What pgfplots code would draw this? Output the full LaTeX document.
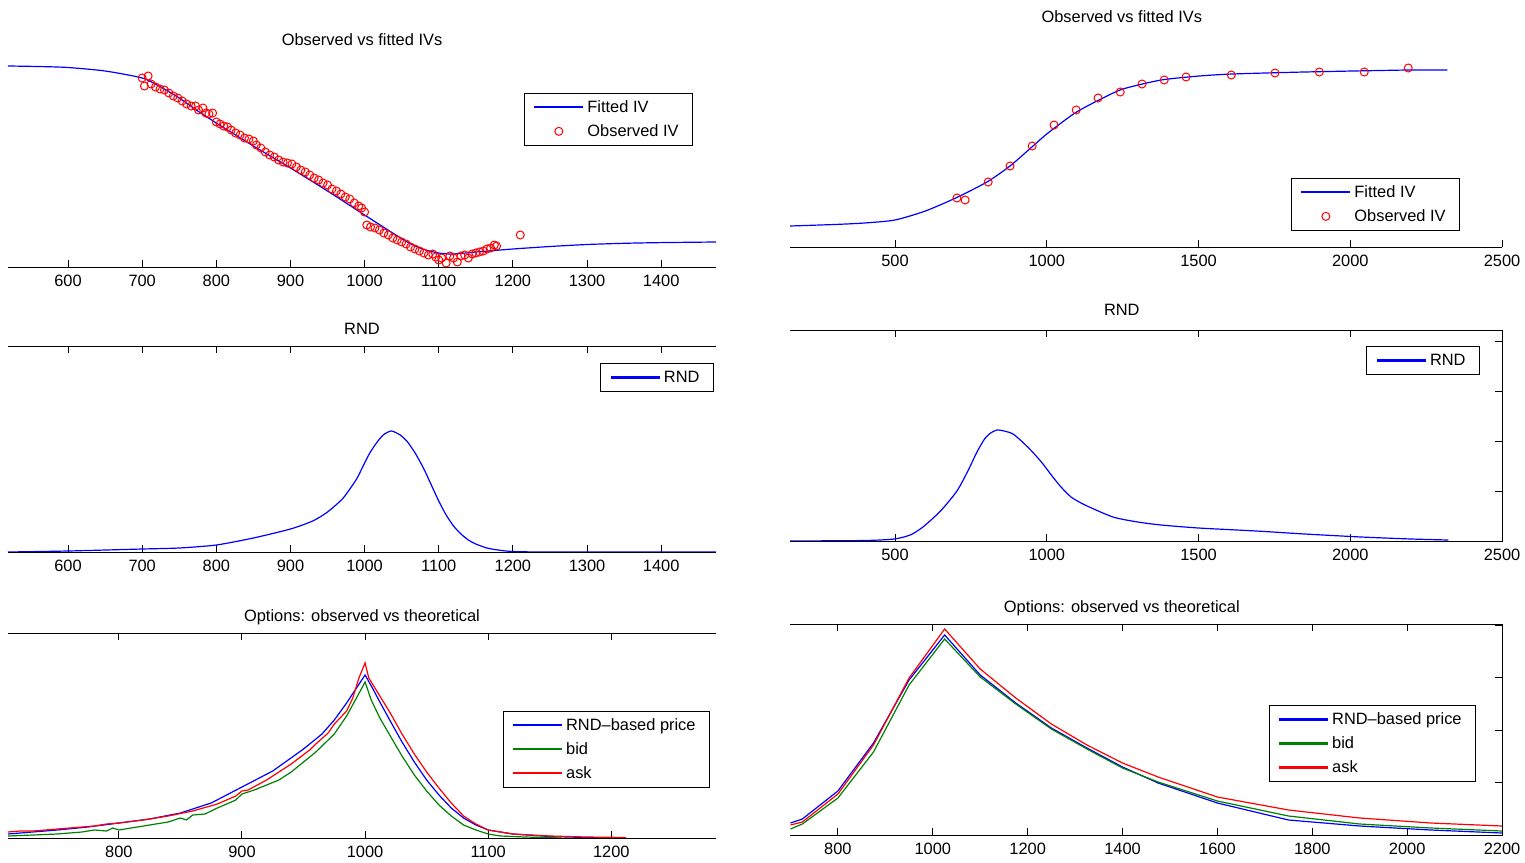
\documentclass[border=0pt]{standalone}
\usepackage{fontspec}
\setmainfont{Liberation Sans}
\usepackage{pgfplots}
\pgfplotsset{compat=1.18}

\definecolor{mblue}{rgb}{0,0,1}
\definecolor{mgreen}{rgb}{0,0.5,0}
\definecolor{mred}{rgb}{1,0,0}
\newcommand{\fs}{\fontsize{8.2}{10}\selectfont}
\tikzset{axisln/.style={draw=black, line width=0.5pt}}

\pgfplotsset{
  panel/.style={
    scale only axis, clip mode=individual,
    separate axis lines,
    axis line style={draw=none},
    every outer x axis line/.append style={draw=none},
    every outer y axis line/.append style={draw=none},
    tick align=inside,
    major tick length=3.5pt,
    tick style={draw=black, line width=0.5pt},
    xticklabel style={font=\fs},
    xticklabel shift=0.7pt,
    title style={font=\fs, anchor=base, inner sep=0pt},
    legend cell align=left,
    legend style={font=\fs,
      anchor=north east, inner xsep=5pt, inner ysep=1pt, row sep=0pt,
      nodes={text height=6.5pt, text depth=1.5pt}},
  },
  lefty/.style={ytick=\empty},
  righty/.style={ytick pos=right, yticklabels={}},
  limg/.style={legend image code/.code={%
    \fill[fill=#1] (0pt,-0.25pt) rectangle (24pt,0.25pt);}},
  fit/.style={draw=mblue, line width=0.6pt, mark=none, smooth, tension=0.4, limg=mblue},
  bl/.style={draw=mblue, line width=0.6pt, mark=none, limg=mblue},
  gr/.style={draw=mgreen, line width=0.6pt, mark=none, limg=mgreen},
  rd/.style={draw=mred, line width=0.6pt, mark=none, limg=mred},
  obs/.style={draw=mred, only marks, mark=o, mark size=2pt,
    mark options={draw=mred, line width=0.5pt},
    legend image code/.code={\draw[##1] plot coordinates {(12pt,0pt)};}},
}

\begin{document}
\begin{tikzpicture}
\useasboundingbox (0pt,0pt) rectangle (762.5pt,-431pt);

% ---------- top left: IV fit
\begin{axis}[panel, lefty, at={(4pt,-133.5pt)}, anchor=south west,
  width=354pt, height=104.5pt, xtick pos=bottom,
  xmin=519, xmax=1474, ymin=0, ymax=209,
  xtick={600,700,800,900,1000,1100,1200,1300,1400},
  xticklabels={600,700,800,900,1000,1100,1200,1300,1400},
  title={Observed vs fitted IVs}, title style={at={(0.5,1)}},
  legend style={at={(0.9675,0.833)}}]
\addplot[fit] coordinates {
(519,201) (560,200.5) (600,199.5) (650,196) (700,189) (725,180) (750,169)
(775,156) (800,144) (850,121) (900,99) (950,76) (1000,52) (1040,33)
(1060,24) (1080,17.5) (1100,14) (1115,13) (1130,13.5) (1150,15) (1200,18)
(1250,20.5) (1300,22.5) (1350,23.7) (1400,24.4) (1474,25)};
\addlegendentry{Fitted IV}
\addplot[obs] coordinates {
(700,189) (703,181) (708,191) (712,183) (718,180) (724,178) (730,177)
(736,174) (742,171) (748,169) (754,166) (760,163) (766,161) (772,161)
(776,157) (782,159) (786,154) (790,153) (795,154) (800,145) (805,143)
(810,141) (815,140) (820,137) (826,134) (832,132) (838,129) (844,128)
(850,126) (854,122) (860,119) (866,115) (872,112) (878,110) (884,107)
(890,105) (896,104) (902,103) (908,100) (914,97) (920,95) (926,92)
(932,89) (938,87) (944,84) (950,82) (956,78) (962,76) (968,73) (974,70)
(980,68) (986,64) (992,61) (996,59) (1000,55) (1003,42) (1008,40)
(1014,39) (1020,37) (1026,34) (1032,32) (1038,29) (1044,27) (1050,25)
(1056,23) (1062,20) (1068,18) (1074,16) (1080,14) (1086,12) (1092,13)
(1096,10) (1100,7) (1104,9) (1110,4) (1115,11) (1120,9) (1125,5)
(1130,11) (1135,12) (1140,9) (1145,13) (1150,14) (1155,15) (1160,16)
(1165,18) (1170,19) (1175,22) (1178,21) (1210,32)};
\addlegendentry{Observed IV}
\draw[axisln] (rel axis cs:0,0) -- (rel axis cs:1,0);
\end{axis}

% ---------- middle left: RND
\begin{axis}[panel, lefty, at={(4pt,-276pt)}, anchor=south west,
  width=354pt, height=103pt, xtick pos=both,
  xmin=519, xmax=1474, ymin=0, ymax=206,
  xtick={600,700,800,900,1000,1100,1200,1300,1400},
  xticklabels={600,700,800,900,1000,1100,1200,1300,1400},
  title={RND}, title style={at={(0.5,1)}},
  legend style={at={(0.997,0.917)}}]
\addplot[fit] coordinates {
(519,0) (600,1) (700,3) (750,4) (800,7) (850,14) (900,23) (930,31)
(950,40) (970,53) (982,65) (990,74) (1000,89) (1007,99) (1015,108)
(1025,117) (1036,121) (1048,117) (1058,110) (1069,98) (1080,83)
(1090,67) (1100,51) (1110,37) (1120,26) (1130,18) (1140,12) (1150,8)
(1165,4) (1180,2) (1200,0.5) (1250,0) (1474,0)};
\addlegendentry{RND}
\draw[axisln] (rel axis cs:0,0) -- (rel axis cs:1,0);
\draw[axisln] (rel axis cs:0,1) -- (rel axis cs:1,1);
\end{axis}

% ---------- bottom left: option prices
\begin{axis}[panel, lefty, at={(4pt,-419pt)}, anchor=south west,
  width=354pt, height=102.5pt, xtick pos=both,
  xmin=710, xmax=1285, ymin=0, ymax=205,
  xtick={800,900,1000,1100,1200},
  xticklabels={800,900,1000,1100,1200},
  title={Options: observed vs theoretical}, title style={at={(0.5,1)}},
  legend style={at={(0.9915,0.62)}}]
\addplot[bl] coordinates {
(710,4) (730,6) (750,8) (775,11) (800,15) (825,19) (850,25) (875,35)
(900,51) (925,67) (950,89) (965,104) (975,118) (985,135) (993,150)
(1000,163) (1006,150) (1012,136) (1020,118) (1030,96) (1040,76)
(1050,58) (1060,43) (1070,30) (1080,20) (1090,13) (1100,8) (1120,4)
(1150,1.5) (1180,0.5) (1210,0)};
\addlegendentry{RND--based price}
\addplot[gr] coordinates {
(710,2) (730,3) (750,4) (770,6) (780,8) (790,7) (795,10) (800,8)
(820,12) (840,16) (850,20) (855,18) (860,23) (870,24) (880,30) (895,38)
(900,44) (910,48) (930,58) (940,66) (960,86) (975,104) (985,122)
(993,140) (1000,156) (1005,138) (1012,120) (1020,103) (1030,82)
(1040,63) (1050,47) (1060,33) (1070,22) (1080,13) (1090,8) (1100,4)
(1110,2) (1130,1) (1160,0)};
\addlegendentry{bid}
\addplot[rd] coordinates {
(710,6) (720,7) (730,7) (740,8) (760,10) (780,12) (790,14) (800,15)
(820,18) (840,22) (860,27) (880,34) (895,42) (900,47) (905,48) (920,58)
(940,74) (955,88) (960,94) (970,105) (975,114) (985,127) (990,140)
(995,160) (1000,175) (1003,160) (1010,146) (1020,126) (1030,104)
(1040,84) (1050,66) (1060,50) (1070,35) (1080,22) (1090,14) (1100,8)
(1120,4) (1150,2) (1180,1) (1212,0.5)};
\addlegendentry{ask}
\draw[axisln] (rel axis cs:0,0) -- (rel axis cs:1,0);
\draw[axisln] (rel axis cs:0,1) -- (rel axis cs:1,1);
\end{axis}

% ---------- top right: IV fit
\begin{axis}[panel, lefty, at={(395pt,-123.5pt)}, anchor=south west,
  width=356pt, height=106.5pt, xtick pos=bottom,
  xmin=154, xmax=2500, ymin=0, ymax=213,
  xtick={500,1000,1500,2000,2500},
  xticklabels={500,1000,1500,2000,2500},
  title={Observed vs fitted IVs}, title style={at={(0.466,1)}},
  legend style={at={(0.941,0.324)}}]
\addplot[fit] coordinates {
(154,21) (300,22.5) (400,24) (500,27) (600,36) (700,49) (803,65)
(879,81) (951,100) (1004,114) (1093,134) (1172,147) (1251,158)
(1377,167) (1503,171) (1612,173) (1849,175) (2191,177) (2320,177)};
\addlegendentry{Fitted IV}
\addplot[obs] coordinates {
(704,49) (731,47) (807,65) (879,81) (952,101) (1024,122) (1097,137)
(1169,149) (1242,155) (1314,163) (1387,167) (1459,170) (1608,172)
(1752,174) (1898,175) (2046,175) (2191,179)};
\addlegendentry{Observed IV}
\draw[axisln] (rel axis cs:0,0) -- (rel axis cs:1,0);
\end{axis}

% ---------- middle right: RND
\begin{axis}[panel, righty, at={(395pt,-270.5pt)}, anchor=south west,
  width=356pt, height=105.5pt, xtick pos=both,
  xmin=154, xmax=2500, ymin=0, ymax=211,
  xtick={500,1000,1500,2000,2500},
  xticklabels={500,1000,1500,2000,2500},
  ytick={50,100,150,200},
  title={RND}, title style={at={(0.466,1)}, yshift=1.5pt},
  legend style={at={(0.969,0.924)}}]
\addplot[fit] coordinates {
(154,0) (400,0.5) (497,2) (550,6) (592,14) (650,30) (704,50) (740,70)
(770,89) (795,102) (815,108) (836,111) (860,110) (889,107) (920,99)
(950,90) (985,78) (1020,64) (1047,54) (1080,44) (1126,36) (1218,24)
(1300,19) (1377,16) (1500,13) (1690,10) (1850,7) (2036,4) (2200,2)
(2323,1)};
\addlegendentry{RND}
\draw[axisln] (rel axis cs:0,0) -- (rel axis cs:1,0) -- (rel axis cs:1,1) -- (rel axis cs:0,1);
\end{axis}

% ---------- bottom right: option prices
\begin{axis}[panel, righty, at={(395pt,-417.5pt)}, anchor=south west,
  width=356pt, height=105.5pt, xtick pos=both,
  xmin=699, xmax=2200, ymin=0, ymax=211,
  xtick={800,1000,1200,1400,1600,1800,2000,2200},
  xticklabels={800,1000,1200,1400,1600,1800,2000,2200},
  ytick={52.5,105,157.5,210},
  title={Options: observed vs theoretical}, title style={at={(0.466,1)}},
  legend style={at={(0.9635,0.616)}}]
\addplot[bl] coordinates {
(700,12) (725,16) (800,44) (875,92) (950,155) (1025,200) (1100,160)
(1175,132) (1250,107) (1325,87) (1400,68) (1475,52) (1600,32)
(1750,15) (1900,9) (2050,5) (2200,2)};
\addlegendentry{RND--based price}
\addplot[gr] coordinates {
(700,6) (725,11) (800,37) (875,83) (950,150) (1025,196) (1100,158)
(1175,131) (1250,106) (1325,86) (1400,67) (1475,53) (1600,34)
(1750,19) (1900,11) (2050,7) (2200,4)};
\addlegendentry{bid}
\addplot[rd] coordinates {
(700,10) (725,13) (800,41) (875,90) (950,157) (1025,206) (1100,166)
(1175,137) (1250,111) (1325,90) (1400,72) (1475,58) (1600,38)
(1750,25) (1900,17) (2050,12) (2200,9)};
\addlegendentry{ask}
\draw[axisln] (rel axis cs:0,0) -- (rel axis cs:1,0) -- (rel axis cs:1,1) -- (rel axis cs:0,1);
\end{axis}
\end{tikzpicture}
\end{document}
